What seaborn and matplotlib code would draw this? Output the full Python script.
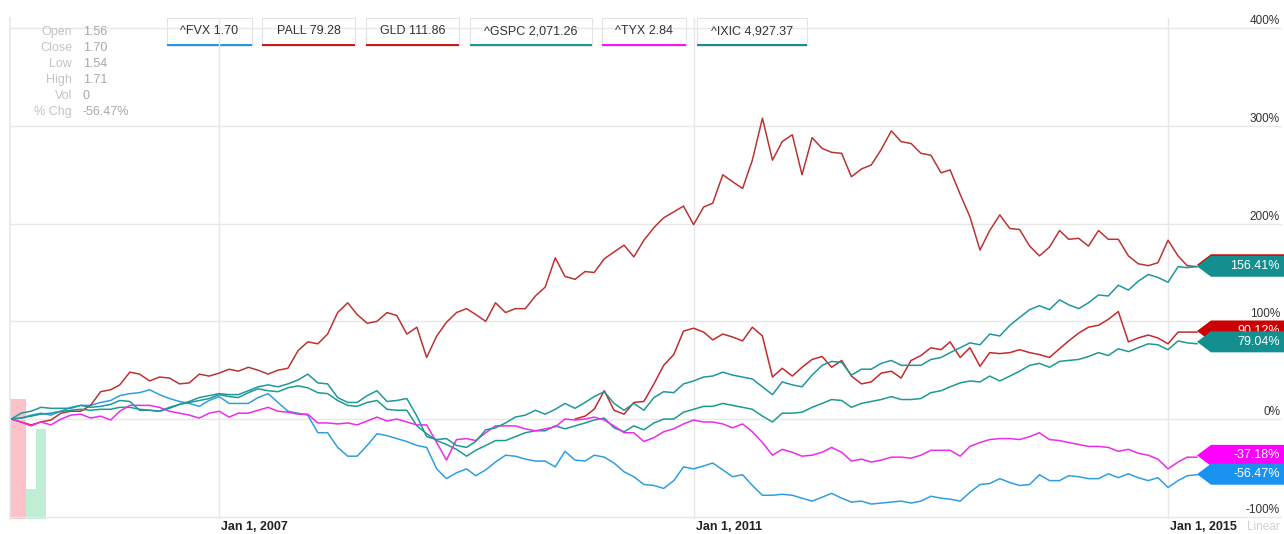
import numpy as np
import pandas as pd
import matplotlib
matplotlib.use("Agg")
import matplotlib.pyplot as plt
from matplotlib.patches import Rectangle, Polygon
from matplotlib.transforms import offset_copy
import seaborn as sns

sns.set_theme(style="white")
plt.rcParams['font.family'] = ['Liberation Sans', 'DejaVu Sans']

# monthly points, Apr 2005 .. Apr 2015, % change since start
months = pd.date_range("2005-04-01", periods=121, freq="MS")

gld = [0, -3, -6, -3, -1, 6, 8, 8, 14, 28, 30, 35,
       48, 46, 39, 43, 42, 36, 37, 46, 44, 47, 51, 49, 53, 50, 46, 50, 52,
       70, 79, 77, 87, 109, 119, 107, 98, 100, 109, 106, 87, 94, 63, 85, 99,
       109, 113, 107, 100, 119, 109, 113, 113, 126, 135, 165, 146, 143, 151,
       150, 164, 171, 178, 166, 183, 196, 206, 212, 218, 199, 217, 221, 250,
       243, 236, 265, 308, 265, 284, 291, 250, 288, 277, 273, 272, 248, 256,
       260, 276, 295, 284,
       282, 272, 270, 252, 255, 230, 207, 173, 193, 209, 195, 194, 177, 167,
       176, 193, 184, 185, 177, 193, 184, 184, 167, 159, 157, 160, 183, 167,
       157, 156]

# PALL only starts in Jan 2010
pall = [np.nan] * 57 + [
    0, 3, 10, 29, 9, 5, 17, 18, 36, 55, 66, 90, 93, 89, 81, 87, 84, 80, 94,
    85, 43, 52, 44, 53, 61, 64, 53, 60, 44, 36, 38, 47, 49, 42,
    60, 65, 73, 71, 79, 63, 73, 54, 68, 67, 68, 71, 68, 66, 63, 72, 80, 88,
    94, 96, 102, 110, 79, 83, 86, 83, 77, 89, 89, 89]

ixic = [0, 6, 8, 12, 11, 11, 11, 14, 12, 13, 15, 19, 18, 9, 9, 8, 12, 15, 18,
        22, 24, 26, 25, 25, 29, 33, 35, 33, 36, 40, 46,
        37, 36, 22, 17, 17, 24, 29, 18, 19, 21, 3, -18, -21, -20, -27, -29,
        -23, -11, -9, -4, 2, 4, 9, 5, 10, 16,
        11, 17, 23, 28, 16, 9, 16, 9, 22, 28, 27, 36, 39, 43, 44, 48, 45, 43,
        41, 33, 25, 38, 35, 33, 45, 55, 59, 58, 45, 51, 51, 57, 60, 55,
        55, 55, 61, 63, 68, 73, 78, 76, 87, 85, 96, 104, 112, 116, 112, 122,
        117, 113, 119, 127, 126, 137, 132, 141, 148, 145, 140, 156, 155, 156]

gspc = [0, 1, 3, 5, 6, 8, 9, 10, 9, 10, 10, 12, 12, 10, 9, 8, 11, 15, 17, 19,
        21, 25, 23, 22, 27, 31, 29, 28, 32, 34, 32,
        27, 26, 19, 14, 13, 17, 19, 10, 9, 9, -7, -15, -22, -26, -31, -38,
        -32, -27, -22, -22, -18, -14, -12, -12, -7, -10,
        -7, -4, -1, 1, -9, -13, -7, -11, -4, 0, 0, 7, 10, 13, 13, 16, 14, 12,
        10, 3, -3, 6, 6, 7, 12, 16, 20, 19, 12, 16, 18, 20, 23, 20,
        20, 21, 27, 29, 33, 37, 39, 38, 44, 39, 44, 49, 55, 57, 53, 59, 60,
        61, 64, 68, 65, 72, 69, 73, 77, 76, 71, 80, 78, 77]

tyx = [0, -3, -7, -3, -6, 0, 4, 5, 1, 3, -1, 8, 14, 14, 14, 12, 8, 6, 4, 1, 6,
       8, 2, 6, 6, 9, 12, 8, 7,
       5, 5, -4, -4, -5, -4, -6, -2, 2, -2, 0, -3, -6, -6, -24, -42, -21, -20,
       -22, -14, -7, -7, -7, -10, -12, -10, -8, 0, -1, 0,
       2, -1, -7, -14, -14, -23, -19, -13, -10, -5, -1, -3, -3, -5, -9, -5,
       -13, -24, -37, -31, -34, -38, -37, -34, -29, -34, -43, -41, -44, -42,
       -39, -39,
       -40, -37, -32, -32, -32, -38, -28, -24, -21, -20, -20, -21, -18, -14,
       -21, -22, -24, -26, -28, -28, -29, -33, -31, -35, -37, -41, -51, -44,
       -39, -39]

fvx = [0, 1, 4, 6, 4, 8, 12, 14, 14, 17, 19, 24, 26, 27, 30, 25, 21, 18, 16,
       13, 19, 23, 16, 16, 16, 22, 26, 17, 8,
       6, 4, -14, -14, -29, -38, -38, -27, -15, -17, -20, -23, -27, -29, -51,
       -61, -55, -51, -58, -52, -44, -37, -38, -41, -43, -43, -49, -33, -42,
       -43,
       -37, -39, -45, -54, -59, -67, -68, -71, -63, -49, -51, -48, -45, -52,
       -59, -57, -68, -78, -78, -77, -78, -81, -84, -80, -76, -81, -85, -84,
       -87, -86, -85, -84,
       -86, -84, -79, -81, -82, -84, -75, -67, -66, -61, -65, -68, -67, -57,
       -63, -63, -58, -59, -61, -61, -56, -60, -56, -60, -63, -60, -70, -63,
       -58, -57]

symbols = ["^FVX", "PALL", "GLD", "^GSPC", "^TYX", "^IXIC"]
series = {"^FVX": fvx, "PALL": pall, "GLD": gld, "^GSPC": gspc, "^TYX": tyx, "^IXIC": ixic}
legend_text = ["^FVX 1.70", "PALL 79.28", "GLD 111.86", "^GSPC 2,071.26", "^TYX 2.84", "^IXIC 4,927.37"]

line_colors = {"^FVX": "#2f9fe0", "PALL": "#c42a2e", "GLD": "#bb3434",
               "^GSPC": "#1d9a92", "^TYX": "#ec2cec", "^IXIC": "#1f979c"}
tag_colors = {"^FVX": "#1a93f0", "PALL": "#cc0000", "GLD": "#cc0000",
              "^GSPC": "#138f8f", "^TYX": "#ff00ff", "^IXIC": "#138f8f"}
under_colors = {"^FVX": "#1e9ae6", "PALL": "#c41e1e", "GLD": "#c41e1e",
                "^GSPC": "#16999a", "^TYX": "#ff11ff", "^IXIC": "#138f8f"}

# last values shown in the tags on the right (GLD is hidden behind ^IXIC)
end_tags = [("GLD", 157.9), ("^IXIC", 156.41), ("PALL", 90.12),
            ("^GSPC", 79.04), ("^TYX", -37.18), ("^FVX", -56.47)]

# volume bars of ^FVX in the first months
vol_dates = months[:4]
vol = [24, 24, 6, 18]
vol_up = [False, False, True, True]

y_ticks = [-100, 0, 100, 200, 300, 400]
x_ticks = pd.to_datetime(["2007-01-01", "2011-01-01", "2015-01-01"])
x_labels = ["Jan 1, 2007", "Jan 1, 2011", "Jan 1, 2015"]

info_labels = ["Open", "Close", "Low", "High", "Vol", "% Chg"]
info_values = ["1.56", "1.70", "1.54", "1.71", "0", "-56.47%"]

df = pd.DataFrame({"date": np.tile(months, len(symbols)),
                   "symbol": np.repeat(symbols, len(months)),
                   "pct": np.concatenate([np.asarray(series[s], dtype=float) for s in symbols])})
df = df.dropna()

W, H = 1284, 534
fig = plt.figure(figsize=(W / 100, H / 100), dpi=100)
ax = fig.add_axes([10 / W, 1 - 519 / H, 1272 / W, 501 / H])

# volume on a twin axis, behind the lines
ax2 = ax.twinx()
ax2.bar(vol_dates, vol, width=30, align="center",
        color=["#bfeed4" if u else "#fbc3c9" for u in vol_up], linewidth=0)
ax2.set_ylim(0, 100)
ax2.set_yticks([])
for s in ax2.spines.values():
    s.set_visible(False)
ax.set_zorder(ax2.get_zorder() + 1)
ax.patch.set_visible(False)

sns.lineplot(data=df, x="date", y="pct", hue="symbol", hue_order=symbols,
             palette=line_colors, linewidth=1.1, estimator=None, legend=False, ax=ax)

ax.set_xlim(pd.Timestamp("2005-03-28"), pd.Timestamp("2015-12-18"))
ax.set_ylim(-102.3, 410.5)
ax.set_xticks(x_ticks)
ax.set_yticks(y_ticks)
ax.set_xticklabels([])
ax.set_yticklabels([])
ax.tick_params(length=0)
ax.set_xlabel("")
ax.set_ylabel("")
ax.grid(True, color="#e8e8e8", linewidth=1)
for name, s in ax.spines.items():
    s.set_visible(name == "left")
ax.spines["left"].set_color("#e8e8e8")

# right side percent labels
ytr = offset_copy(ax.get_yaxis_transform(), fig=fig, x=-2, y=1, units="dots")
for v in y_ticks:
    ax.text(1.0, v, f"{v}%", transform=ytr, ha="right", va="bottom",
            fontsize=8.5, color="#333333")

# bottom date labels
xtr = offset_copy(ax.get_xaxis_transform(), fig=fig, x=2, y=-8, units="dots")
for d, lab in zip(x_ticks, x_labels):
    ax.text(d, 0, lab, transform=xtr, ha="left", va="center", fontsize=9,
            fontweight="bold", color="#222222", clip_on=False)
ltr = offset_copy(ax.transAxes, fig=fig, x=-2, y=-8, units="dots")
ax.text(1.0, 0, "Linear", transform=ltr, ha="right", va="center",
        fontsize=8.5, color="#d0d0d0", clip_on=False, zorder=20,
        bbox=dict(facecolor="white", edgecolor="none", pad=1.5))

# price tags at the right end
tip = (1197 - 10) / 1272
body = (1211 - 10) / 1272
right = (1286 - 10) / 1272
half = 10.5 * 512.8 / 501
tag_tr = ax.get_yaxis_transform()
for k, (sym, v) in enumerate(end_tags):
    poly = Polygon([(tip, v), (body, v + half), (right, v + half),
                    (right, v - half), (body, v - half)], closed=True,
                   transform=tag_tr, facecolor=tag_colors[sym], edgecolor="none",
                   clip_on=False, zorder=10 + k)
    ax.add_patch(poly)
    ax.text((1280 - 10) / 1272, v, f"{v:.2f}%", transform=tag_tr, ha="right",
            va="center", fontsize=9, color="white", clip_on=False, zorder=10 + k)

# legend chips along the top
chip_x = [(167, 252), (262, 355), (366, 459), (470, 592), (602, 686), (697, 807)]
for (x0, x1), sym, txt in zip(chip_x, symbols, legend_text):
    fig.add_artist(Rectangle((x0 / W, 1 - 46 / H), (x1 - x0) / W, 28 / H,
                             facecolor="white", edgecolor="#e4e4e4", linewidth=0.8))
    fig.add_artist(Rectangle((x0 / W, 1 - 46 / H), (x1 - x0) / W, 2.2 / H,
                             facecolor=under_colors[sym], edgecolor="none"))
    fig.text((x0 + x1) / 2 / W, 1 - 31 / H, txt, ha="center", va="center",
             fontsize=9, color="#333333")

# hover info block at the top left
for k, (lab, val) in enumerate(zip(info_labels, info_values)):
    yy = 1 - (32 + 16 * k) / H
    fig.text(72 / W, yy, lab, ha="right", va="center", fontsize=9, color="#c4c4c4")
    fig.text(83 / W, yy, val, ha="left", va="center", fontsize=9, color="#a8a8a8")

fig.savefig("out.png", dpi=100, facecolor="white")
